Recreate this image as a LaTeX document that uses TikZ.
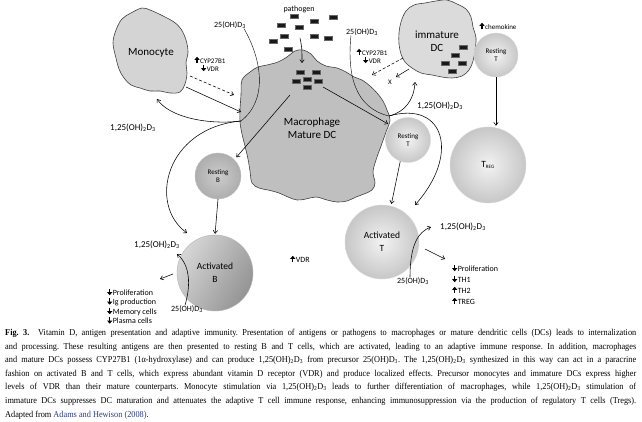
\documentclass[tikz,border=0pt]{standalone}
\usepackage{fontspec}
\setmainfont{Carlito}
\newfontfamily\capfont[FakeStretch=0.92]{Liberation Serif}
\usetikzlibrary{arrows.meta}
\definecolor{refblue}{RGB}{40,60,140}
\newcommand{\vup}{\tikz[baseline=0pt, x=1pt, y=1pt]
    \draw [line width=1.2pt, -{Triangle[length=3pt,width=5pt]}] (0,0) -- (0,6.4);\hspace{0.6pt}}
\newcommand{\vdn}{\tikz[baseline=0pt, x=1pt, y=1pt]
    \draw [line width=1.2pt, -{Triangle[length=3pt,width=5pt]}] (0,6.4) -- (0,0);\hspace{0.6pt}}
\newcommand{\dihyd}{1,25(OH)\textsubscript{2}D\textsubscript{3}}
\newcommand{\monohyd}{25(OH)D\textsubscript{3}}
\begin{document}
\begin{tikzpicture}[%
            x=1pt, y=-1pt,
            blob/.style={draw=black!75, line width=0.6pt},
            arr/.style={-{Straight Barb[length=3pt,width=4.5pt]}, line width=0.55pt},
            dasharr/.style={arr, dash pattern=on 3pt off 2pt},
            antigen/.style={draw=black!60, fill=black!90, minimum width=8pt, minimum height=3.6pt, inner sep=0pt},
            tcell/.style={circle, inner sep=0pt, align=center, draw=black!15, inner color=black!5, outer color=black!22},
            bcell/.style={circle, inner sep=0pt, align=center, draw=black!25, inner color=black!20, outer color=black!32},
            bigtxt/.style={align=center, font=\fontsize{11}{13}\selectfont},
            acttxt/.style={font=\fontsize{9.5}{13}\selectfont},
            resttxt/.style={font=\fontsize{7}{8.5}\selectfont},
            dlbl/.style={inner sep=0pt, font=\fontsize{9}{10}\selectfont},
            mlbl/.style={inner sep=0pt, font=\fontsize{8}{9}\selectfont},
            slbl/.style={inner sep=0pt, align=center, font=\fontsize{7}{8}\selectfont}
        ]
        \useasboundingbox [fill=white] (0,0) rectangle (642,422);

        % cells with an irregular outline
        \draw [blob, fill=black!17] plot [smooth cycle, tension=0.6] coordinates {
            (113,43) (116,30) (122,19) (131,13) (142,8) (150,10) (157,13) (165,17)
            (174,22) (181,29) (186,40) (188,52) (186,63) (187,73) (185,84) (180,92)
            (170,93) (160,91) (150,91) (140,88) (131,85) (124,78) (119,69) (116,58)};
        \draw [blob, fill=black!25] plot [smooth cycle, tension=0.6] coordinates {
            (242,80) (250,72) (258,67) (267,65) (278,62) (287,57) (295,51) (303,50)
            (311,54) (317,61) (326,66) (337,68) (346,72) (354,77) (362,80) (370,86)
            (377,93) (383,101) (387,110) (390,120) (386,132) (381,146) (376,160) (373,172)
            (375,183) (372,190) (364,194) (356,197) (347,201) (337,202) (327,200) (316,197)
            (306,199) (297,200) (288,197) (279,193) (268,190) (259,188) (252,183) (250,171)
            (248,159) (245,146) (242,134) (240,122) (240,110) (241,95)};
        \draw [blob, fill=black!14] plot [smooth cycle, tension=0.6] coordinates {
            (401,22) (406,11) (414,5) (425,3) (436,1) (447,0) (457,4) (466,9)
            (471,17) (473,27) (476,38) (475,50) (473,61) (469,70) (462,76) (452,78)
            (442,77) (432,75) (421,73) (412,68) (405,62) (401,54) (399,44) (399,33)};

        \node [bigtxt] (mono)  at (151,53)  {Monocyte};
        \node [bigtxt] (macro) at (312,128) {Macrophage\\Mature DC};
        \node [bigtxt] (idc)   at (437,41)  {immature\\DC};

        % antigens
        \foreach \x/\y [count=\i] in {294/16, 281/25, 299/27, 314/21, 333/17, 284/36,
                                      273/41, 314/36, 328/38, 288/49}
            \node [antigen] (pg\i) at (\x,\y) {};
        \foreach \x/\y [count=\i] in {300/72, 316/72, 296/81, 307/79, 318/81, 307/87}
            \node [antigen] (ma\i) at (\x,\y) {};
        \foreach \x/\y [count=\i] in {463/47, 455/55, 445/63, 462/63, 452/71}
            \node [antigen] (da\i) at (\x,\y) {};

        % round cells
        \node [tcell, minimum size=44pt, resttxt] (rtu)  at (496,55)  {Resting\\T};
        \node [tcell, minimum size=76pt, acttxt]  (treg) at (488,165) {T\textsubscript{\fontsize{5}{5}\selectfont REG}};
        \node [tcell, minimum size=45pt, resttxt] (rtm)  at (408,140) {Resting\\T};
        \node [tcell, minimum size=74pt, acttxt]  (act)  at (382,242) {Activated\\T};
        \node [bcell, minimum size=46pt, resttxt] (rb)   at (218,176) {Resting\\B};
        \node [circle, inner sep=0pt, align=center, draw=black!30, left color=black!16,
               right color=black!42, shading angle=60, minimum size=76pt, acttxt] (ab) at (215,273) {Activated\\B};

        % labels
        \node [mlbl] (pathlbl) at (299,9)   {pathogen};
        \node [mlbl] (m25l)    at (230,25)  {\monohyd};
        \node [mlbl] (m25r)    at (362,32)  {\monohyd};
        \node [mlbl] (m25b)    at (187,309) {\monohyd};
        \node [mlbl] (m25t)    at (413,281) {\monohyd};
        \node [dlbl] (d3l)     at (133,128) {\dihyd};
        \node [dlbl] (d3r)     at (440,106) {\dihyd};
        \node [dlbl] (d3b)     at (157,245) {\dihyd};
        \node [dlbl] (d3t)     at (463,227) {\dihyd};
        \node [slbl] (cypl)    at (210,64)  {\vup CYP27B1\\\vdn VDR};
        \node [slbl] (cypr)    at (372,56)  {\vup CYP27B1\\\vdn VDR};
        \node [slbl] (chemo)   at (498,26)  {\vup chemokine};
        \node [mlbl] (vdr)     at (300,259) {\vup VDR};
        \node [slbl] (xmark)   at (390,82)  {X};
        \node [mlbl, align=left, anchor=north west, font=\fontsize{8}{9.5}\selectfont] (blist) at (107,288)
            {\vdn Proliferation\\\vdn Ig production\\\vdn Memory cells\\\vdn Plasma cells};
        \node [mlbl, align=left, anchor=north west, font=\fontsize{8}{11}\selectfont] (tlist) at (452,264)
            {\vdn Proliferation\\\vdn TH1\\\vup TH2\\\vup TREG};

        % points on the outlines
        \coordinate (pgtail) at (300,38);
        \coordinate (pghead) at (302,63);
        \coordinate (monoR)  at (186,87);
        \coordinate (monoD)  at (190,76);
        \coordinate (monoB)  at (157,99);
        \coordinate (macL)   at (241,112);
        \coordinate (macLd)  at (234,95);
        \coordinate (macML)  at (241,121);
        \coordinate (macMR)  at (389,116);
        \coordinate (macR)   at (372,75);
        \coordinate (macB)   at (290,95);
        \coordinate (macC)   at (323,87);
        \coordinate (idcL)   at (403,58);
        \coordinate (idcX)   at (409,69);
        \coordinate (xend)   at (396,77);
        \coordinate (idcB)   at (415,82);
        \coordinate (abTop)  at (187,233);
        \coordinate (actTop) at (415,205);
        \coordinate (abIn)   at (177,254);
        \coordinate (abOut)  at (173,274);
        \coordinate (abList) at (160,279);
        \coordinate (actIn)  at (431,227);
        \coordinate (actOut) at (425,249);
        \coordinate (actLst) at (445,259);

        % monocyte and pathogen in
        \draw [arr] (pgtail) .. controls (302,48) .. (pghead);
        \draw [arr] (monoR) -- (macL);
        \draw [dasharr] (monoD) -- (macLd);
        \draw [dasharr] (idcL) -- (macR);
        \draw [arr] (idcX) -- (xend);

        % vitamin D through the macrophage
        \draw ([xshift=-2pt]m25l.south east) .. controls (262,60) and (268,100) .. (macML);
        \draw [arr] (macML) .. controls (210,125) and (170,118) .. (monoB);
        \draw [arr] (macML) .. controls (165,128) and (148,205) .. (abTop);
        \draw ([xshift=5pt]m25r.south west) .. controls (347,75) and (355,108) .. (macMR);
        \draw [arr] (macMR) .. controls (405,112) and (414,100) .. (idcB);
        \draw [arr] (macMR) .. controls (445,100) and (460,155) .. (actTop);

        % presentation
        \draw [arr, shorten >=3pt] (macB) -- (rb.45);
        \draw [arr, shorten >=3pt] (macC) -- (rtm.140);
        \draw [arr, shorten >=2pt] (rtm.250) -- (act.76);
        \draw [arr, shorten >=1pt] (rtu.south) -- (rtu.south |- treg.north);
        \draw [arr, shorten >=1pt] (rb.south) -- (ab.north);

        % local effects
        \draw [arr] ([xshift=-2pt]m25b.north) .. controls (191,285) and (190,265) .. (abIn);
        \draw [arr] (abOut) -- (abList);
        \draw [arr] ([xshift=-3pt]m25t.north) .. controls (410,245) and (418,232) .. (actIn);
        \draw [arr] (actOut) -- (actLst);

        % caption
        \node [anchor=north west, inner sep=0pt, text width=631pt, align=justify,
               font=\capfont\fontsize{9}{13.6}\selectfont\frenchspacing] (caption) at (5,329) {%
            \textbf{Fig. 3.}\ \ Vitamin D, antigen presentation and adaptive immunity. Presentation of antigens or pathogens to macrophages or mature dendritic cells (DCs) leads to internalization\linebreak
            and processing. These resulting antigens are then presented to resting B and T cells, which are activated, leading to an adaptive immune response. In addition, macrophages\linebreak
            and mature DCs possess CYP27B1 (1α-hydroxylase) and can produce \dihyd{} from precursor \monohyd. The \dihyd{} synthesized in this way can act in a paracrine\linebreak
            fashion on activated B and T cells, which express abundant vitamin D receptor (VDR) and produce localized effects. Precursor monocytes and immature DCs express higher\linebreak
            levels of VDR than their mature counterparts. Monocyte stimulation via \dihyd{} leads to further differentiation of macrophages, while \dihyd{} stimulation of\linebreak
            immature DCs suppresses DC maturation and attenuates the adaptive T cell immune response, enhancing immunosuppression via the production of regulatory T cells (Tregs).\linebreak
            Adapted from {\color{refblue}Adams and Hewison (2008)}.};
    \end{tikzpicture}
\end{document}
